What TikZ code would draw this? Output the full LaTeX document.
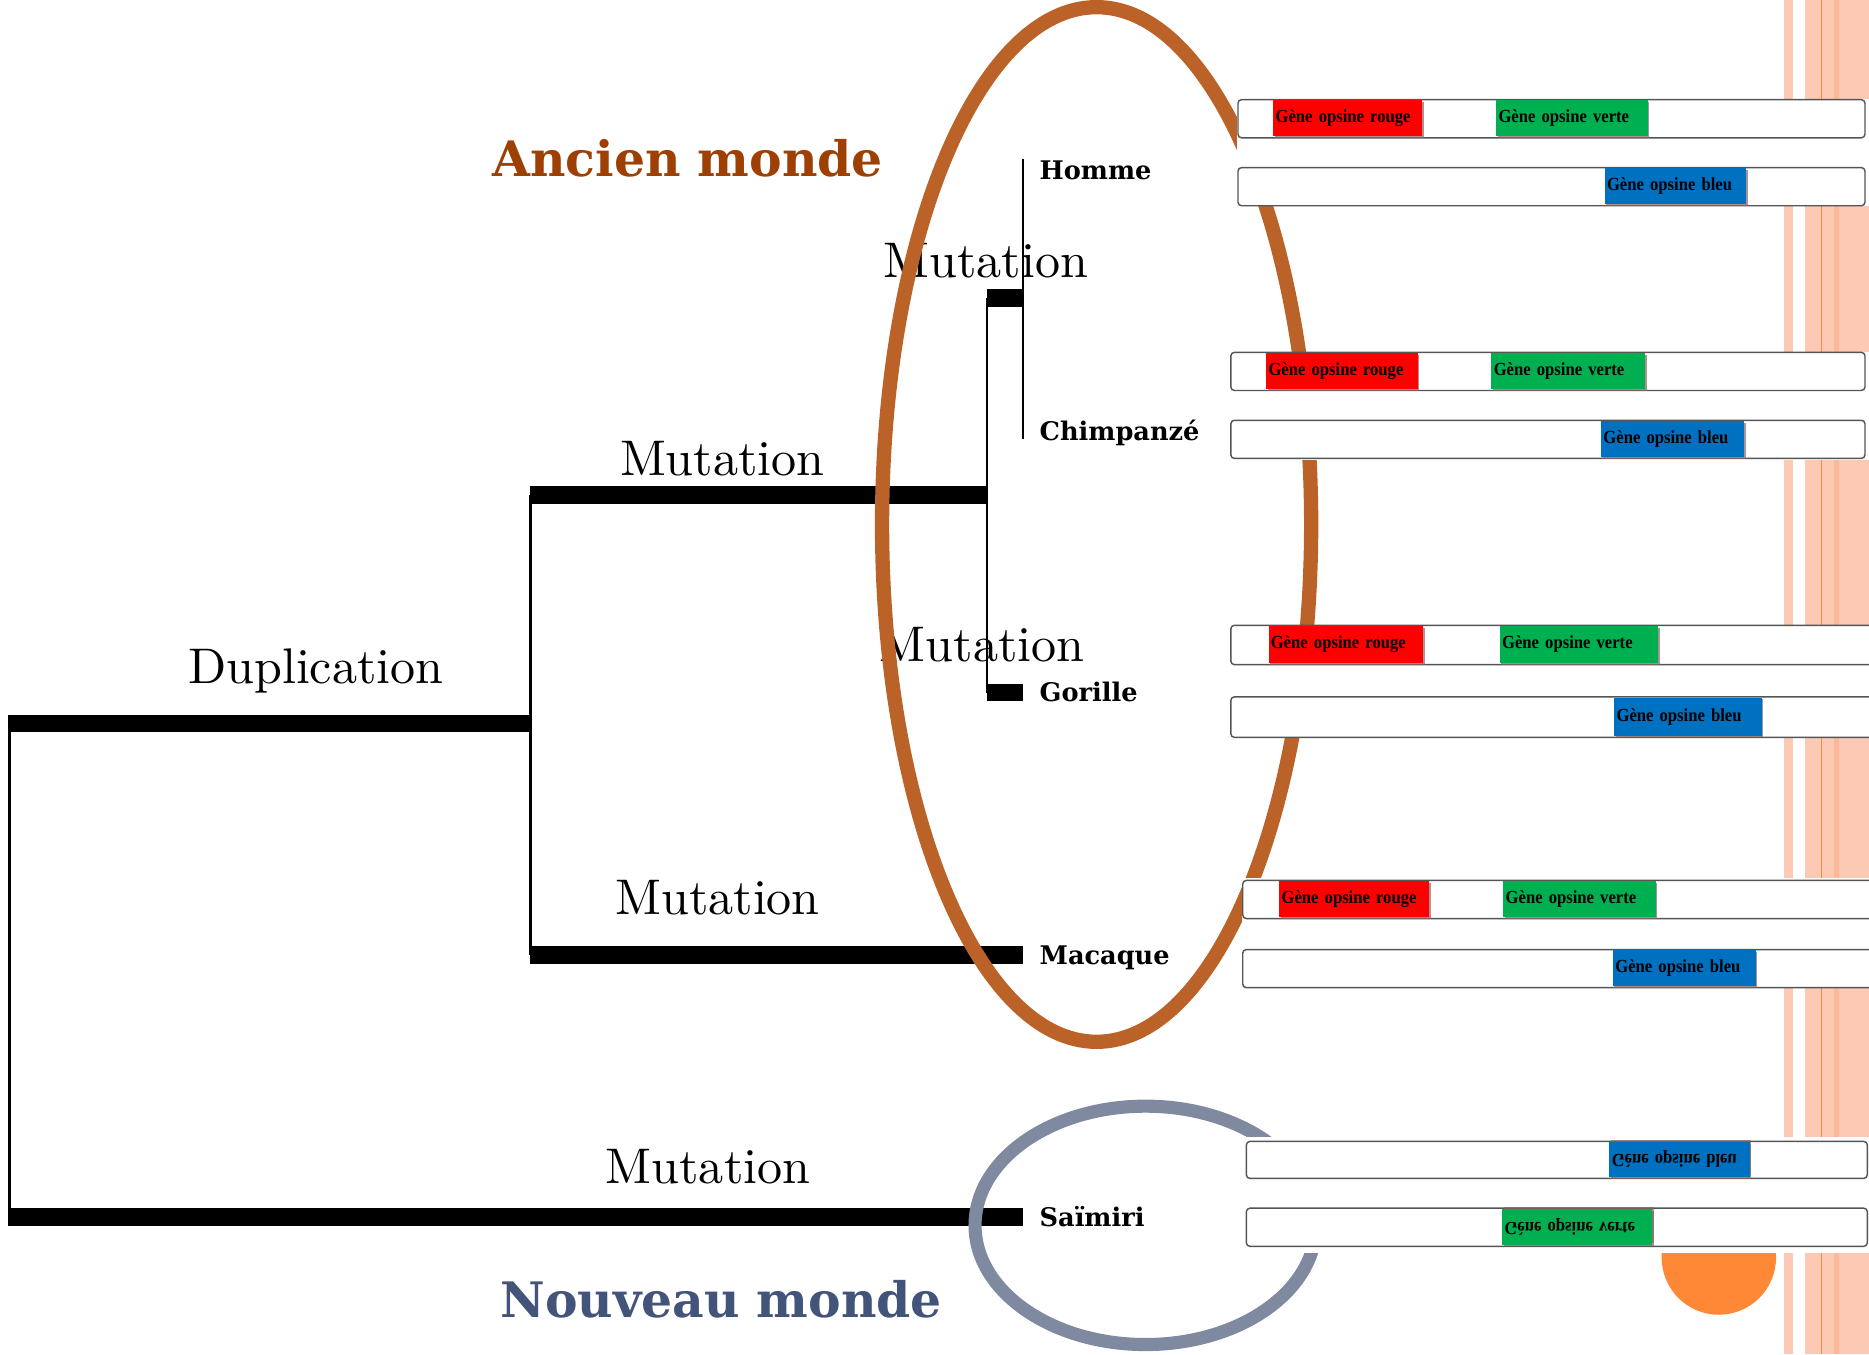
\documentclass[tikz,border=0pt]{standalone}
\usepackage{fontspec}
\usepackage{graphicx}
\usetikzlibrary{shadows}
\newfontfamily\especefont{DejaVu Serif}
\newfontfamily\genefont[FakeStretch=0.9]{Liberation Serif}
\newfontfamily\evenfont{lmroman10-regular}[Extension=.otf]
\definecolor{ancien}{RGB}{158,64,4}
\definecolor{nouveau}{RGB}{67,84,122}
\definecolor{brun}{RGB}{187,98,40}
\definecolor{ardoise}{RGB}{127,137,160}
\definecolor{orangeplein}{RGB}{254,136,54}
\definecolor{saumon}{RGB}{252,201,181}
\definecolor{saumonfonce}{RGB}{252,184,152}
\definecolor{orangefil}{RGB}{250,138,62}
\definecolor{rouge}{RGB}{255,0,0}
\definecolor{vert}{RGB}{0,176,80}
\definecolor{bleu}{RGB}{0,112,192}
\definecolor{bord}{RGB}{85,85,85}
\definecolor{ombre}{RGB}{140,100,100}

\begin{document}
\begin{tikzpicture}[x=1pt, y=-1pt,
  branche/.style={line width=15pt},
  trait/.style={line width=2pt},
  espece/.style={anchor=west, inner xsep=14pt, inner ysep=0pt, text height=15.7pt, text depth=0pt,
    font=\especefont\bfseries\fontsize{21.5}{24}\selectfont},
  evenement/.style={anchor=base, inner sep=0pt, font=\evenfont\fontsize{42}{48}\selectfont},
  titre/.style={anchor=base, inner sep=0pt, font=\especefont\bfseries\fontsize{41}{48}\selectfont},
  anneau/.style={line width=12pt},
  boite/.style={draw=bord, line width=1.2pt, fill=white, rounded corners=3pt, anchor=north west, inner sep=0pt},
  bande/.style={anchor=north west, inner xsep=2pt, inner ysep=0pt, align=left,
    font=\genefont\bfseries\fontsize{15.5}{17}\selectfont,
    drop shadow={shadow xshift=1.2pt, shadow yshift=-1.5pt, fill=ombre, opacity=0.7}},
  bandeinv/.style={bande, drop shadow={shadow xshift=1.2pt, shadow yshift=1.5pt, fill=ombre, opacity=0.7}}]
\useasboundingbox (0,0) rectangle (1568,1136);

% Bandes du fond
\fill[saumon] (1497,0) rectangle (1504,1136);
\fill[saumon] (1514,0) rectangle (1568,1136);
\fill[saumonfonce] (1539,0) rectangle (1543,1136);
\draw[orangefil, line width=1.3pt] (1528,0) -- (1528,1136);
\fill[orangeplein] (1442,1055) circle (48pt);

% Especes
\node[espece] (homme) at (858,143) {Homme};
\node[espece] (chimp) at (858,362) {Chimpanzé};
\node[espece] (gorille) at (858,581) {Gorille};
\node[espece] (macaque) at (858,801) {Macaque};
\node[espece] (saimiri) at (858,1021) {Saïmiri};

% Evenements
\node[evenement] (dup) at (265,573) {Duplication};
\node[evenement] (mut1) at (606,399) {Mutation};
\node[evenement] (mut2) at (827,233) {Mutation};
\node[evenement] (mut3) at (824,555) {Mutation};
\node[evenement] (mut4) at (602,767) {Mutation};
\node[evenement] (mut5) at (594,993) {Mutation};

% Arbre
\coordinate (r) at (8,607);
\coordinate (r2) at (8,1021);
\coordinate (a) at (445,607);
\coordinate (a1) at (445,415);
\coordinate (a2) at (445,801);
\coordinate (b) at (828,415);
\coordinate (b1) at (828,250);
\coordinate (b2) at (828,581);
\coordinate (c) at (858,250);
\draw[branche] (r) -- (a);
\draw[trait] ([yshift=7.5pt]r) -- ([yshift=-7.5pt]r2);
\draw[branche] (r2) -- (saimiri);
\draw[trait] (a1) -- (a2);
\draw[branche] (a1) -- (b);
\draw[branche] (a2) -- (macaque);
\draw[trait] (b1) -- (b2);
\draw[branche] (b1) -- (c);
\draw[branche] (b2) -- (gorille);
\draw[trait] ([yshift=10pt]homme.west) -- ([yshift=-6pt]chimp.west);

% Groupes
\draw[anneau, draw=brun] (920,440) ellipse [x radius=180pt, y radius=434pt];
\draw[anneau, draw=ardoise, line width=11pt] (961,1028) ellipse [x radius=143pt, y radius=100pt];
\node[titre, text=ancien] (ancien) at (577,148) {Ancien monde};
\node[titre, text=nouveau] (nouveau) at (605,1105) {Nouveau monde};

% Genes : Homme
\fill[white] (1038,83) rectangle (1568,173);
\node[boite, minimum width=526pt, minimum height=32pt] (h1) at (1038,83) {};
\node[boite, minimum width=526pt, minimum height=32pt] (h2) at (1038,140) {};
\node[bande, fill=rouge, text width=121pt, minimum height=30pt] (hr) at (1068,84) {Gène opsine rouge};
\node[bande, fill=vert, text width=123pt, minimum height=30pt] (hv) at (1255,84) {Gène opsine verte};
\node[bande, fill=bleu, text width=115pt, minimum height=30pt] (hb) at (1346,141) {Gène opsine bleu};

% Genes : Chimpanze
\fill[white] (1032,295) rectangle (1568,386);
\node[boite, minimum width=532pt, minimum height=32pt] (c1) at (1032,295) {};
\node[boite, minimum width=532pt, minimum height=32pt] (c2) at (1032,352) {};
\node[bande, fill=rouge, text width=123pt, minimum height=30pt] (cr) at (1062,296) {Gène opsine rouge};
\node[bande, fill=vert, text width=125pt, minimum height=30pt] (cv) at (1251,296) {Gène opsine verte};
\node[bande, fill=bleu, text width=116pt, minimum height=30pt] (cb) at (1343,353) {Gène opsine bleu};

% Genes : Gorille
\fill[white] (1032,524) rectangle (1568,619);
\node[boite, minimum width=560pt, minimum height=33pt] (g1) at (1032,524) {};
\node[boite, minimum width=560pt, minimum height=34pt] (g2) at (1032,584) {};
\node[bande, fill=rouge, text width=126pt, minimum height=31pt] (gr) at (1064,525) {Gène opsine rouge};
\node[bande, fill=vert, text width=129pt, minimum height=31pt] (gv) at (1258,525) {Gène opsine verte};
\node[bande, fill=bleu, text width=120pt, minimum height=32pt] (gb) at (1354,585) {Gène opsine bleu};

% Genes : Macaque
\fill[white] (1042,737) rectangle (1568,829);
\node[boite, minimum width=550pt, minimum height=32pt] (m1) at (1042,738) {};
\node[boite, minimum width=550pt, minimum height=32pt] (m2) at (1042,796) {};
\node[bande, fill=rouge, text width=122pt, minimum height=30pt] (mr) at (1073,739) {Gène opsine rouge};
\node[bande, fill=vert, text width=124pt, minimum height=30pt] (mv) at (1261,739) {Gène opsine verte};
\node[bande, fill=bleu, text width=116pt, minimum height=30pt] (mb) at (1353,797) {Gène opsine bleu};

% Genes : Saimiri
\fill[white] (1045,954) rectangle (1568,1051);
\node[boite, minimum width=521pt, minimum height=31pt] (s1) at (1045,957) {};
\node[boite, minimum width=521pt, minimum height=32pt] (s2) at (1045,1013) {};
\node[bandeinv, fill=bleu, text width=114pt, minimum height=29pt] (sb) at (1350,958) {\scalebox{1}[-1]{Gène opsine bleu}};
\node[bandeinv, fill=vert, text width=122pt, minimum height=30pt] (sv) at (1260,1014) {\scalebox{1}[-1]{Gène opsine verte}};
\end{tikzpicture}
\end{document}
